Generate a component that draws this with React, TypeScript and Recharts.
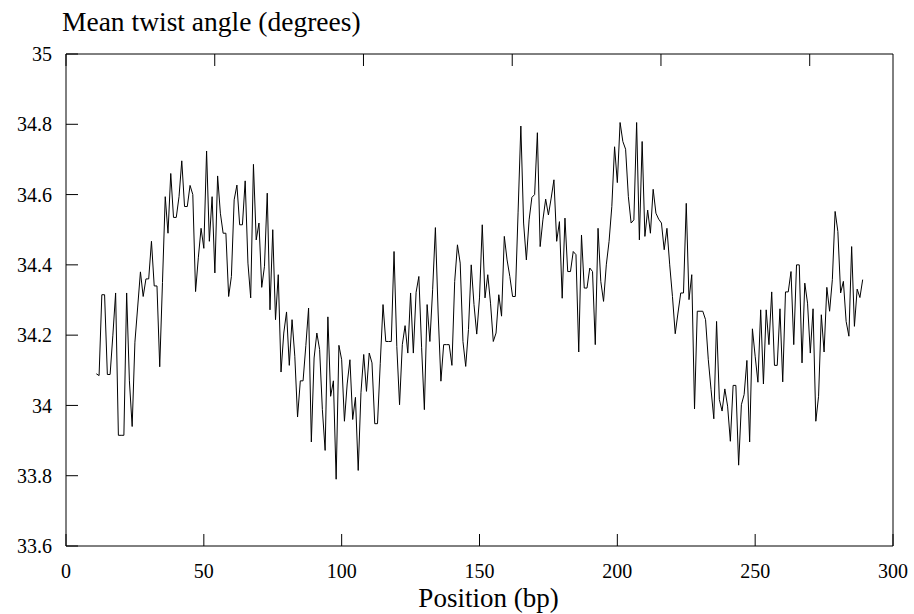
import { LineChart, Line, XAxis, YAxis } from "recharts";

// position of the first base pair; one twist value per bp after that
const START_POSITION = 11;

const TWIST = [
  34.09, 34.085, 34.315, 34.315, 34.088, 34.088, 34.2, 34.32, 33.915, 33.915,
  33.915, 34.32, 34.07, 33.94, 34.18, 34.28, 34.38, 34.31, 34.36, 34.36,
  34.467, 34.34, 34.34, 34.11, 34.35, 34.594, 34.49, 34.66, 34.535, 34.535,
  34.594, 34.696, 34.566, 34.566, 34.626, 34.6, 34.324, 34.42, 34.504, 34.447,
  34.724, 34.467, 34.594, 34.377, 34.653, 34.547, 34.49, 34.49, 34.31, 34.367,
  34.585, 34.627, 34.514, 34.514, 34.639, 34.405, 34.306, 34.686, 34.471, 34.519,
  34.336, 34.396, 34.604, 34.272, 34.5, 34.244, 34.372, 34.095, 34.206, 34.266,
  34.114, 34.244, 34.14, 33.967, 34.07, 34.07, 34.17, 34.277, 33.896, 34.135,
  34.206, 34.159, 33.988, 33.872, 34.252, 34.026, 34.07, 33.79, 34.171, 34.13,
  33.955, 34.061, 34.13, 33.96, 34.023, 33.815, 34.036, 34.145, 34.04, 34.149,
  34.121, 33.948, 33.948, 34.12, 34.287, 34.182, 34.182, 34.182, 34.438, 34.168,
  34.002, 34.173, 34.227, 34.149, 34.32, 34.149, 34.322, 34.367, 34.164, 33.988,
  34.287, 34.182, 34.329, 34.506, 34.263, 34.069, 34.173, 34.173, 34.173, 34.114,
  34.353, 34.457, 34.405, 34.182, 34.111, 34.216, 34.4, 34.287, 34.203, 34.306,
  34.514, 34.306, 34.372, 34.291, 34.182, 34.206, 34.315, 34.254, 34.481, 34.414,
  34.367, 34.31, 34.31, 34.55, 34.795, 34.519, 34.414, 34.528, 34.592, 34.6,
  34.776, 34.452, 34.528, 34.587, 34.542, 34.59, 34.642, 34.467, 34.523, 34.305,
  34.533, 34.381, 34.381, 34.438, 34.429, 34.152, 34.485, 34.334, 34.334, 34.391,
  34.381, 34.173, 34.504, 34.353, 34.296, 34.4, 34.467, 34.566, 34.736, 34.634,
  34.805, 34.751, 34.729, 34.594, 34.519, 34.528, 34.805, 34.471, 34.751, 34.481,
  34.556, 34.49, 34.615, 34.547, 34.53, 34.519, 34.443, 34.504, 34.4, 34.31,
  34.204, 34.263, 34.32, 34.32, 34.575, 34.301, 34.372, 33.99, 34.268, 34.268,
  34.268, 34.244, 34.13, 34.045, 33.962, 34.239, 34.017, 33.984, 34.047, 33.998,
  33.898, 34.057, 34.057, 33.83, 34.002, 34.031, 34.128, 33.896, 34.218, 34.14,
  34.066, 34.272, 34.061, 34.272, 34.173, 34.323, 34.114, 34.114, 34.275, 34.067,
  34.323, 34.323, 34.381, 34.173, 34.4, 34.4, 34.121, 34.348, 34.291, 34.149,
  34.275, 33.955, 34.026, 34.258, 34.152, 34.336, 34.268, 34.358, 34.552, 34.495,
  34.32, 34.353, 34.239, 34.197, 34.452, 34.225, 34.331, 34.307, 34.358,
];

const X_TICKS = [0, 50, 100, 150, 200, 250, 300];
const Y_TICKS = [33.6, 33.8, 34, 34.2, 34.4, 34.6, 34.8, 35];

const data = TWIST.map((twist, i) => ({ pos: START_POSITION + i, twist }));

const FONT = "'Liberation Serif', 'Times New Roman', serif";
const tickStyle = { fontSize: 20, fill: "#000", fontFamily: FONT };
const fmt = (v: number) => String(Number(v.toFixed(1)));

export default function App() {
  return (
    <div style={{ position: "absolute", left: 0, top: 0, background: "#fff" }}>
      <LineChart
        width={914}
        height={614}
        data={data}
        margin={{ top: 53, right: 20, bottom: 0, left: 0 }}
      >
        <XAxis
          dataKey="pos"
          type="number"
          domain={[0, 300]}
          ticks={X_TICKS}
          height={68}
          tickSize={-12}
          tickMargin={30}
          stroke="#000"
          tick={tickStyle}
          interval={0}
          label={{
            content: ({ viewBox }: any) => (
              <text
                x={viewBox.x + viewBox.width / 2 + 9}
                y={viewBox.y + 61}
                textAnchor="middle"
                fontSize={27}
                fontFamily={FONT}
                fill="#000"
              >
                Position (bp)
              </text>
            ),
          }}
        />
        <XAxis
          xAxisId="top"
          orientation="top"
          type="number"
          domain={[0, 300]}
          ticks={X_TICKS}
          height={1}
          tickSize={-12}
          tickFormatter={() => ""}
          stroke="#000"
          interval={0}
        />
        <YAxis
          type="number"
          domain={[33.6, 35]}
          ticks={Y_TICKS}
          width={66}
          tickSize={-12}
          tickMargin={26}
          tickFormatter={fmt}
          stroke="#000"
          tick={tickStyle}
          interval={0}
          label={{
            content: ({ viewBox }: any) => (
              <text
                x={viewBox.x + 62}
                y={viewBox.y - 23}
                fontSize={27.5}
                fontFamily={FONT}
                fill="#000"
              >
                Mean twist angle (degrees)
              </text>
            ),
          }}
        />
        <YAxis
          yAxisId="right"
          orientation="right"
          type="number"
          domain={[33.6, 35]}
          ticks={Y_TICKS}
          width={1}
          tickSize={-12}
          tickFormatter={() => ""}
          stroke="#000"
          interval={0}
        />
        <Line
          dataKey="twist"
          type="linear"
          stroke="#000"
          strokeWidth={1}
          dot={false}
          isAnimationActive={false}
        />
      </LineChart>
    </div>
  );
}
